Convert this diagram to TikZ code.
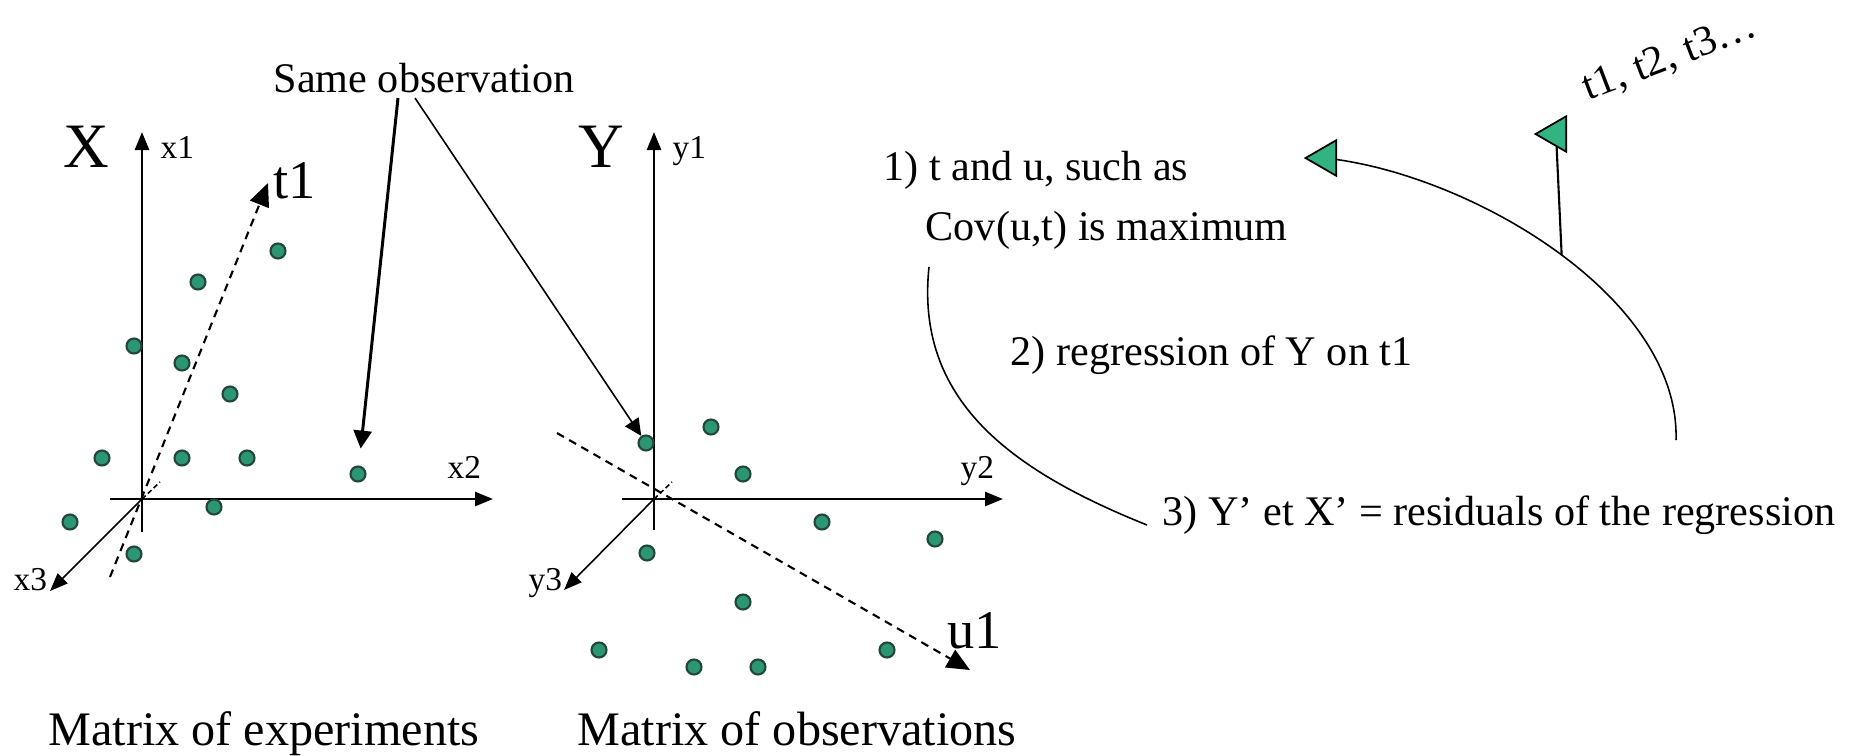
\documentclass[tikz,border=0pt]{standalone}
\usepackage{fontspec}
\setmainfont{Liberation Serif}
\usepackage{xcolor}
\usepackage{tikz}
\usetikzlibrary{arrows.meta,shapes.geometric,calc}

\definecolor{dotgreen}{RGB}{44,150,116}
\definecolor{dotedge}{RGB}{35,70,58}
\definecolor{flaggreen}{RGB}{50,180,130}

\begin{document}
\begin{tikzpicture}[x=0.1mm, y=-0.1mm,
    every node/.style={inner sep=0pt},
    lbl/.style={anchor=base west},
    bigletter/.style={lbl, font=\fontsize{18}{20}\selectfont},
    veclbl/.style={lbl, font=\fontsize{15.5}{18}\selectfont},
    axlbl/.style={lbl, font=\fontsize{9.5}{11}\selectfont},
    note/.style={lbl, font=\fontsize{12}{14}\selectfont},
    caption/.style={lbl, font=\fontsize{13.7}{16}\selectfont},
    dot/.style={circle, draw=dotedge, line width=0.6pt, fill=dotgreen, minimum size=1.5mm},
    pennant/.style={regular polygon, regular polygon sides=3, shape border rotate=90, draw, line width=0.5pt, fill=flaggreen, minimum size=4.1mm},
    axis/.style={line width=0.75pt, -{Triangle[length=1.8mm,width=1.4mm]}},
    depth/.style={line width=0.45pt, -{Triangle[length=1.8mm,width=1.4mm]}},
    hidden/.style={line width=0.45pt, dash pattern=on 0.5mm off 0.3mm},
    latent/.style={line width=0.6pt, dash pattern=on 0.8mm off 0.6mm, -{Triangle[length=2.3mm,width=2mm]}},
    flow/.style={line width=0.45pt}]
    \useasboundingbox (0,0) rectangle (1858,755);

    % matrix X
    \coordinate (xo) at (142,499);
    \draw[axis] ($(xo)+(0,33)$) -- ($(xo)+(0,-367)$);
    \draw[axis] ($(xo)+(-32,0)$) -- ($(xo)+(351,0)$);
    \draw[depth] (xo) -- ($(xo)+(-92,92)$);
    \draw[hidden] (xo) -- ($(xo)+(18,-17)$);
    \node[bigletter] (Xlbl) at (63,167) {X};
    \node[axlbl] (x1lbl) at (160,158) {x1};
    \node[axlbl] (x2lbl) at (447,478) {x2};
    \node[axlbl] (x3lbl) at (13,590) {x3};
    \coordinate (t1tail) at (110,577);
    \coordinate (t1tip) at (268,183);
    \draw[latent] (t1tail) -- (t1tip);
    \node[veclbl] (t1lbl) at (273,198) {t1};
    \foreach \p [count=\i] in {(278,251),(198,282),(134,346),(182,363),(230,394),(102,458),
        (182,458),(247,458),(358,474),(214,507),(70,522),(134,554)}
      \node[dot] (xd\i) at \p {};

    % matrix Y
    \coordinate (yo) at (654,499);
    \draw[axis] ($(yo)+(0,31)$) -- ($(yo)+(0,-367)$);
    \draw[axis] ($(yo)+(-32,0)$) -- ($(yo)+(349,0)$);
    \draw[depth] (yo) -- ($(yo)+(-90,91)$);
    \draw[hidden] (yo) -- ($(yo)+(18,-17)$);
    \node[bigletter] (Ylbl) at (578,167) {Y};
    \node[axlbl] (y1lbl) at (672,158) {y1};
    \node[axlbl] (y2lbl) at (960,478) {y2};
    \node[axlbl] (y3lbl) at (528,590) {y3};
    \coordinate (u1tail) at (557,433);
    \coordinate (u1tip) at (970,670);
    \draw[latent] (u1tail) -- (u1tip);
    \node[veclbl] (u1lbl) at (947,648) {u1};
    \foreach \p [count=\i] in {(646,443),(711,427),(743,474),(822,522),(935,539),(647,553),
        (743,602),(599,650),(694,667),(758,667),(887,650)}
      \node[dot] (yd\i) at \p {};

    \node[caption] (capX) at (48,745) {Matrix of experiments};
    \node[caption] (capY) at (577,745) {Matrix of observations};

    % same observation
    \node[note] (same) at (273,92) {Same observation};
    \coordinate (obsA) at (398,98);
    \coordinate (obsB) at (415,98);
    \draw[line width=0.85pt, -{Triangle[length=1.8mm,width=1.8mm]}, shorten >=1.7mm] (obsA) -- (xd9);
    \draw[line width=0.45pt, -{Triangle[length=1.7mm,width=1.6mm]}] (obsB) -- (yd1);

    % the steps
    \node[note] (stepAa) at (883,180) {1) t and u, such as};
    \node[note] (stepAb) at (925,240) {Cov(u,t) is maximum};
    \node[note] (stepB) at (1010,365) {2) regression of Y on t1};
    \node[note] (stepC) at (1162,525) {3) Y' et X' = residuals of the regression};
    \node[note, rotate=21] (series) at (1588,101) {t1, t2, t3\ldots};
    \node[pennant] (pennA) at (1326,158) {};
    \node[pennant] (pennB) at (1556,134) {};

    \coordinate (loopA) at (929,267);
    \draw[flow] (loopA) .. controls (915,400) and (1010,470) .. ([xshift=-1.5mm]stepC.base west);
    \coordinate (loopB) at (1676,440);
    \draw[flow] (loopB) .. controls (1680,300) and (1480,180) .. (pennA) coordinate[pos=0.5] (fork);
    \draw[line width=0.6pt] (fork) -- (pennB);
\end{tikzpicture}
\end{document}
